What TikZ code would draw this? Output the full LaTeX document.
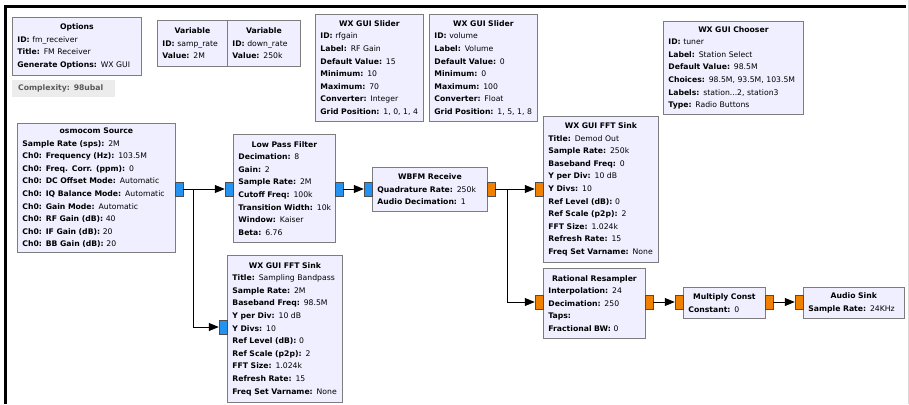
\documentclass[tikz,border=0pt]{standalone}
\usepackage{fontspec}
\setmainfont{DejaVu Sans}
\usetikzlibrary{arrows.meta}
\definecolor{blkfill}{RGB}{240,239,255}
\definecolor{blkdraw}{RGB}{125,125,125}
\definecolor{pblue}{RGB}{36,146,240}
\definecolor{porange}{RGB}{240,128,0}
\definecolor{cplxfill}{RGB}{236,236,236}
\definecolor{cplxtext}{RGB}{90,90,90}
\newcommand{\kv}[2]{\mbox{\textbf{#1:} #2}}
\newcommand{\ttl}[1]{\makebox[\hsize][c]{\textbf{#1}}}
\tikzset{
  blk/.style={draw=blkdraw, fill=blkfill, line width=0.8pt, anchor=north west,
    inner xsep=5pt, inner ysep=0pt, align=left,
    font=\fontsize{7.7}{12.6}\selectfont},
  portb/.style={draw=black!70, fill=pblue, line width=0.5pt, minimum width=8pt, minimum height=14pt, inner sep=0pt},
  porto/.style={draw=black!70, fill=porange, line width=0.5pt, minimum width=8pt, minimum height=14pt, inner sep=0pt},
  conn/.style={line width=0.8pt, -{Triangle[length=10pt,width=8pt]}}
}
\begin{document}
\begin{tikzpicture}[x=1pt,y=-1pt]
\useasboundingbox (0,0) rectangle (909,404);
\fill[white] (0,0) rectangle (909,404);
% frame
\fill[black] (3.5,5) rectangle (906,8);
\fill[black] (3.5,5) rectangle (6.5,404);
\draw[black!15, line width=1pt] (908,0) -- (908,404);

% top blocks
\node[blk, minimum width=129pt, minimum height=58pt, text width=119pt] (opts) at (12,17)
 {\ttl{Options}\\\kv{ID}{fm\_receiver}\\\kv{Title}{FM Receiver}\\\kv{Generate Options}{WX GUI}};
\node[fill=cplxfill, anchor=north west, minimum width=103pt, minimum height=17pt, inner xsep=6pt, inner ysep=0pt, text width=91pt, align=left, text=cplxtext, font=\fontsize{7.7}{9}\selectfont\bfseries] (cplx) at (12,80) {Complexity: 98ubal};
\node[blk, minimum width=70pt, minimum height=46pt, text width=60pt] (var1) at (157,20)
 {\ttl{Variable}\\\kv{ID}{samp\_rate}\\\kv{Value}{2M}};
\node[blk, minimum width=73pt, minimum height=46pt, text width=63pt] (var2) at (227,20)
 {\ttl{Variable}\\\kv{ID}{down\_rate}\\\kv{Value}{250k}};
\node[blk, minimum width=108pt, minimum height=107pt, text width=98pt] (sl1) at (315,14)
 {\ttl{WX GUI Slider}\\\kv{ID}{rfgain}\\\kv{Label}{RF Gain}\\\kv{Default Value}{15}\\\kv{Minimum}{10}\\\kv{Maximum}{70}\\\kv{Converter}{Integer}\\\kv{Grid Position}{1, 0, 1, 4}};
\node[blk, minimum width=108pt, minimum height=107pt, text width=98pt] (sl2) at (429,14)
 {\ttl{WX GUI Slider}\\\kv{ID}{volume}\\\kv{Label}{Volume}\\\kv{Default Value}{0}\\\kv{Minimum}{0}\\\kv{Maximum}{100}\\\kv{Converter}{Float}\\\kv{Grid Position}{1, 5, 1, 8}};
\node[blk, minimum width=140pt, minimum height=93pt, text width=130pt] (chooser) at (663,21)
 {\ttl{WX GUI Chooser}\\\kv{ID}{tuner}\\\kv{Label}{Station Select}\\\kv{Default Value}{98.5M}\\\kv{Choices}{98.5M, 93.5M, 103.5M}\\\kv{Labels}{station...2, station3}\\\kv{Type}{Radio Buttons}};

% flow blocks
\node[blk, minimum width=158pt, minimum height=129pt, text width=148pt] (osmo) at (17,123)
 {\ttl{osmocom Source}\\\kv{Sample Rate (sps)}{2M}\\\kv{Ch0: Frequency (Hz)}{103.5M}\\\kv{Ch0: Freq. Corr. (ppm)}{0}\\\kv{Ch0: DC Offset Mode}{Automatic}\\\kv{Ch0: IQ Balance Mode}{Automatic}\\\kv{Ch0: Gain Mode}{Automatic}\\\kv{Ch0: RF Gain (dB)}{40}\\\kv{Ch0: IF Gain (dB)}{20}\\\kv{Ch0: BB Gain (dB)}{20}};
\node[blk, minimum width=102pt, minimum height=108pt, text width=92pt] (lpf) at (233,134)
 {\ttl{Low Pass Filter}\\\kv{Decimation}{8}\\\kv{Gain}{2}\\\kv{Sample Rate}{2M}\\\kv{Cutoff Freq}{100k}\\\kv{Transition Width}{10k}\\\kv{Window}{Kaiser}\\\kv{Beta}{6.76}};
\node[blk, minimum width=115pt, minimum height=44pt, text width=105pt] (wbfm) at (372,167)
 {\ttl{WBFM Receive}\\\kv{Quadrature Rate}{250k}\\\kv{Audio Decimation}{1}};
\node[blk, minimum width=115pt, minimum height=146pt, text width=105pt] (demod) at (543,116)
 {\ttl{WX GUI FFT Sink}\\\kv{Title}{Demod Out}\\\kv{Sample Rate}{250k}\\\kv{Baseband Freq}{0}\\\kv{Y per Div}{10 dB}\\\kv{Y Divs}{10}\\\kv{Ref Level (dB)}{0}\\\kv{Ref Scale (p2p)}{2}\\\kv{FFT Size}{1.024k}\\\kv{Refresh Rate}{15}\\\kv{Freq Set Varname}{None}};
\node[blk, minimum width=115pt, minimum height=147pt, text width=105pt] (fft2) at (227,255)
 {\ttl{WX GUI FFT Sink}\\\kv{Title}{Sampling Bandpass}\\\kv{Sample Rate}{2M}\\\kv{Baseband Freq}{98.5M}\\\kv{Y per Div}{10 dB}\\\kv{Y Divs}{10}\\\kv{Ref Level (dB)}{0}\\\kv{Ref Scale (p2p)}{2}\\\kv{FFT Size}{1.024k}\\\kv{Refresh Rate}{15}\\\kv{Freq Set Varname}{None}};
\node[blk, minimum width=102pt, minimum height=70pt, text width=92pt] (rs) at (543,268)
 {\ttl{Rational Resampler}\\\kv{Interpolation}{24}\\\kv{Decimation}{250}\\\textbf{Taps:}\\\kv{Fractional BW}{0}};
\node[blk, minimum width=82pt, minimum height=31pt, text width=72pt] (mc) at (683,287)
 {\ttl{Multiply Const}\\\kv{Constant}{0}};
\node[blk, minimum width=101pt, minimum height=31pt, text width=91pt] (aud) at (803,287)
 {\ttl{Audio Sink}\\\kv{Sample Rate}{24KHz}};

% ports
\node[portb] (osmoout) at (179,189) {};
\node[portb] (lpfin) at (229,189) {};
\node[portb] (lpfout) at (339,189) {};
\node[portb] (wbfmin) at (368,189) {};
\node[porto] (wbfmout) at (491,189) {};
\node[porto] (demodin) at (539,189) {};
\node[portb] (fft2in) at (223,327) {};
\node[porto] (rsin) at (539,302) {};
\node[porto] (rsout) at (649,302) {};
\node[porto] (mcin) at (679,302) {};
\node[porto] (mcout) at (769,302) {};
\node[porto] (audin) at (799,302) {};

% connectors
\coordinate (br1) at (193,189);
\coordinate (br2) at (507,189);
\draw[conn] (osmoout.east) -- (lpfin.west);
\draw[conn] (osmoout.east) -- (br1) |- (fft2in.west);
\draw[conn] (lpfout.east) -- (wbfmin.west);
\draw[conn] (wbfmout.east) -- (demodin.west);
\draw[conn] (wbfmout.east) -- (br2) |- (rsin.west);
\draw[conn] (rsout.east) -- (mcin.west);
\draw[conn] (mcout.east) -- (audin.west);
\end{tikzpicture}
\end{document}
